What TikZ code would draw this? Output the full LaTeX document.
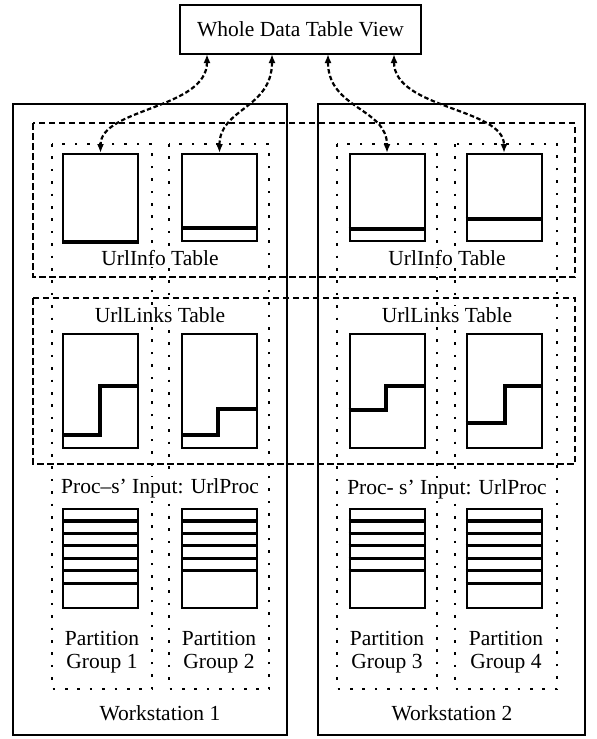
\documentclass[tikz,border=0pt]{standalone}
\usepackage{fontspec}
\setmainfont{Liberation Serif}
\newfontfamily\labelface{Liberation Serif}
\usetikzlibrary{arrows.meta,calc}
\begin{document}
\begin{tikzpicture}[x=1pt,y=-1pt,
  every node/.style={font=\labelface\fontsize{21.5}{23.5}\selectfont, inner sep=1pt},
  wsbox/.style={draw, line width=1.7pt},
  grpbox/.style={draw, line width=2.8pt, dash pattern=on 6.5pt off 3.5pt},
  partbox/.style={draw, line width=2.6pt, dash pattern=on 2.6pt off 9.8pt},
  tabbox/.style={draw, line width=2pt, minimum width=75pt, inner sep=0pt},
  bar/.style={line width=3.2pt},
  lbl/.style={fill=white, inner sep=1.5pt},
  link/.style={line width=2.2pt, dash pattern=on 4.5pt off 2.5pt,
    {Latex[length=9pt,width=7pt]}-{Latex[length=9pt,width=7pt]}}]

\useasboundingbox (0,0) rectangle (597,739);

% workstations
\draw[wsbox] (13,104) rectangle (287,735);
\draw[wsbox] (318,104) rectangle (585,735);

% table groups spanning both workstations
\draw[grpbox] (33,123) rectangle (575,277);
\draw[grpbox] (33,298) rectangle (575,464);

% partition groups
\foreach \l/\r in {52/152, 169/269, 337/437, 455/557}
  \draw[partbox] (\l,144) rectangle (\r,689);

% top view
\node[draw, line width=1.7pt, minimum width=241pt, minimum height=49pt] (view) at (300.5,29.5) {Whole Data Table View};

% UrlInfo tables
\node[tabbox, minimum height=87pt] (i1) at (100.5,197.5) {};
\node[tabbox, minimum height=87pt] (i2) at (219.5,197.5) {};
\node[tabbox, minimum height=87pt] (i3) at (387,197.5) {};
\node[tabbox, minimum height=87pt] (i4) at (504,197.5) {};
\draw[bar] (i1.south west) -- (i1.south east);
\draw[bar] (i2.west |- 0,228) -- (i2.east |- 0,228);
\draw[bar] (i3.west |- 0,229) -- (i3.east |- 0,229);
\draw[bar] (i4.west |- 0,219) -- (i4.east |- 0,219);

% UrlLinks tables
\node[tabbox, minimum height=114pt] (k1) at (100.5,391) {};
\node[tabbox, minimum height=114pt] (k2) at (219.5,391) {};
\node[tabbox, minimum height=114pt] (k3) at (387,391) {};
\node[tabbox, minimum height=114pt] (k4) at (504,391) {};
\draw[bar] (k1.west |- 0,435) -- (100,435) -- (100,386) -- (k1.east |- 0,386);
\draw[bar] (k2.west |- 0,435) -- (218,435) -- (218,409) -- (k2.east |- 0,409);
\draw[bar] (k3.west |- 0,410) -- (386,410) -- (386,386) -- (k3.east |- 0,386);
\draw[bar] (k4.west |- 0,423) -- (505,423) -- (505,386) -- (k4.east |- 0,386);

% UrlProc tables
\node[tabbox, minimum height=99pt] (p1) at (100.5,558.5) {};
\node[tabbox, minimum height=99pt] (p2) at (219.5,558.5) {};
\node[tabbox, minimum height=99pt] (p3) at (387,558.5) {};
\node[tabbox, minimum height=99pt] (p4) at (504,558.5) {};
\foreach \t/\n in {p1/6, p2/5, p3/5, p4/6}
  \foreach \k in {1,...,\n}
    \draw[bar] (\t.west |- 0,{508.5+12.45*\k}) -- (\t.east |- 0,{508.5+12.45*\k});

% labels
\node[lbl] (li1) at (160,258) {UrlInfo Table};
\node[lbl] (li2) at (447,258) {UrlInfo Table};
\node[lbl] (lk1) at (160,315) {UrlLinks Table};
\node[lbl] (lk2) at (447,315) {UrlLinks Table};
\node[lbl] (lp1) at (160,488) {Proc–s’ Input: UrlProc};
\node[lbl] (lp2) at (447,489) {Proc- s’ Input: UrlProc};
\node[align=center] (g1) at (102,652) {Partition\\Group 1};
\node[align=center] (g2) at (219,652) {Partition\\Group 2};
\node[align=center] (g3) at (387,652) {Partition\\Group 3};
\node[align=center] (g4) at (506,652) {Partition\\Group 4};
\node (w1) at (160,713) {Workstation 1};
\node (w2) at (452,713) {Workstation 2};

% links between the view and the UrlInfo tables
\coordinate (a1) at (207,54);
\coordinate (a2) at (272,54);
\coordinate (a3) at (328,54);
\coordinate (a4) at (394,54);
\draw[link] (a1) .. controls +(0,55) and +(0,-45) .. (i1.north);
\draw[link] (a2) .. controls +(0,55) and +(0,-45) .. (i2.north);
\draw[link] (a3) .. controls +(0,55) and +(0,-45) .. (i3.north);
\draw[link] (a4) .. controls +(0,55) and +(0,-45) .. (i4.north);
\end{tikzpicture}
\end{document}
